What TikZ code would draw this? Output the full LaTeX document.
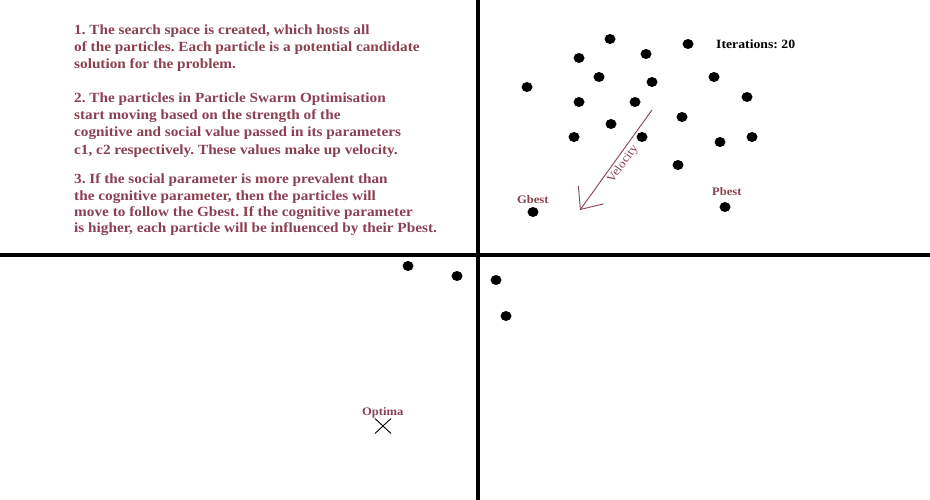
\documentclass[tikz,border=0pt]{standalone}
\usepackage{fontspec}
\setmainfont[FakeStretch=1.09]{Liberation Serif}
\frenchspacing
\usetikzlibrary{arrows.meta,shapes.misc,shapes.geometric}
\definecolor{maroon}{HTML}{8B4050}
\tikzset{
  txt/.style={anchor=base west, inner sep=0pt, text=maroon, font=\bfseries\fontsize{14}{16}\selectfont},
  lbl/.style={anchor=base west, inner sep=0pt, text=maroon, font=\bfseries\fontsize{11.5}{13}\selectfont},
  dot/.style={ellipse, fill=black, minimum width=11pt, minimum height=10pt, inner sep=0pt},
  axis/.style={line width=3.8pt, black},
}
\begin{document}
\begin{tikzpicture}[x=1pt,y=-1pt]
\useasboundingbox (0,0) rectangle (930,500);
% axes
\coordinate (hl) at (0,255); \coordinate (hr) at (930,255);
\coordinate (vt) at (478,0); \coordinate (vb) at (478,500);
\draw[axis] (hl) -- (hr);
\draw[axis, line width=3.4pt] (vt) -- (vb);
% text
\node[txt] (t1) at (74,35) {1. The search space is created, which hosts all};
\node[txt] (t2) at (74,52) {of the particles. Each particle is a potential candidate};
\node[txt] (t3) at (74,69) {solution for the problem.};
\node[txt] (t4) at (74,103) {2. The particles in Particle Swarm Optimisation};
\node[txt] (t5) at (74,120) {start moving based on the strength of the};
\node[txt] (t6) at (74,137) {cognitive and social value passed in its parameters};
\node[txt] (t7) at (74,155) {c1, c2 respectively. These values make up velocity.};
\node[txt] (t8) at (74,184) {3. If the social parameter is more prevalent than};
\node[txt] (t9) at (74,201) {the cognitive parameter, then the particles will};
\node[txt] (t10) at (74,217) {move to follow the Gbest. If the cognitive parameter};
\node[txt] (t11) at (74,233) {is higher, each particle will be influenced by their Pbest.};
% iterations
\node[lbl, text=black, font=\bfseries\fontsize{12.6}{14}\selectfont] (it) at (716,49) {Iterations: 20};
% particles
\foreach \i/\x/\y in {1/610/39,2/579/58,3/646/54,4/688/44,5/599/77,6/652/82,7/714/77,8/527/87,9/579/102,10/635/102,11/747/97,12/611/124,13/682/117,14/574/137,15/642/137,16/720/142,17/752/137,18/678/165,19/408/266,20/457/276,21/496/280,22/506/316}
  \node[dot] (p\i) at (\x,\y) {};
\node[dot] (gb) at (533,212) {};
\node[dot] (pb) at (725,207) {};
\node[lbl] (gbl) at (517,204) {Gbest};
\node[lbl] (pbl) at (712,196) {Pbest};
% velocity
\coordinate (vs) at (652,110);
\coordinate (ve) at (580,210);
\draw[maroon, line width=0.9pt, -{Straight Barb[length=18pt, width=31pt, line width=0.9pt]}] (vs) -- (ve);
\node[maroon, font=\fontsize{12}{14}\selectfont, rotate=54, inner sep=0pt] (vl) at (623,164) {Velocity};
% optima
\node[lbl] (optl) at (362,415) {Optima};
\node[cross out, draw, line width=0.9pt, minimum width=15pt, minimum height=14pt, inner sep=0pt] (opt) at (383,426) {};
\end{tikzpicture}
\end{document}
